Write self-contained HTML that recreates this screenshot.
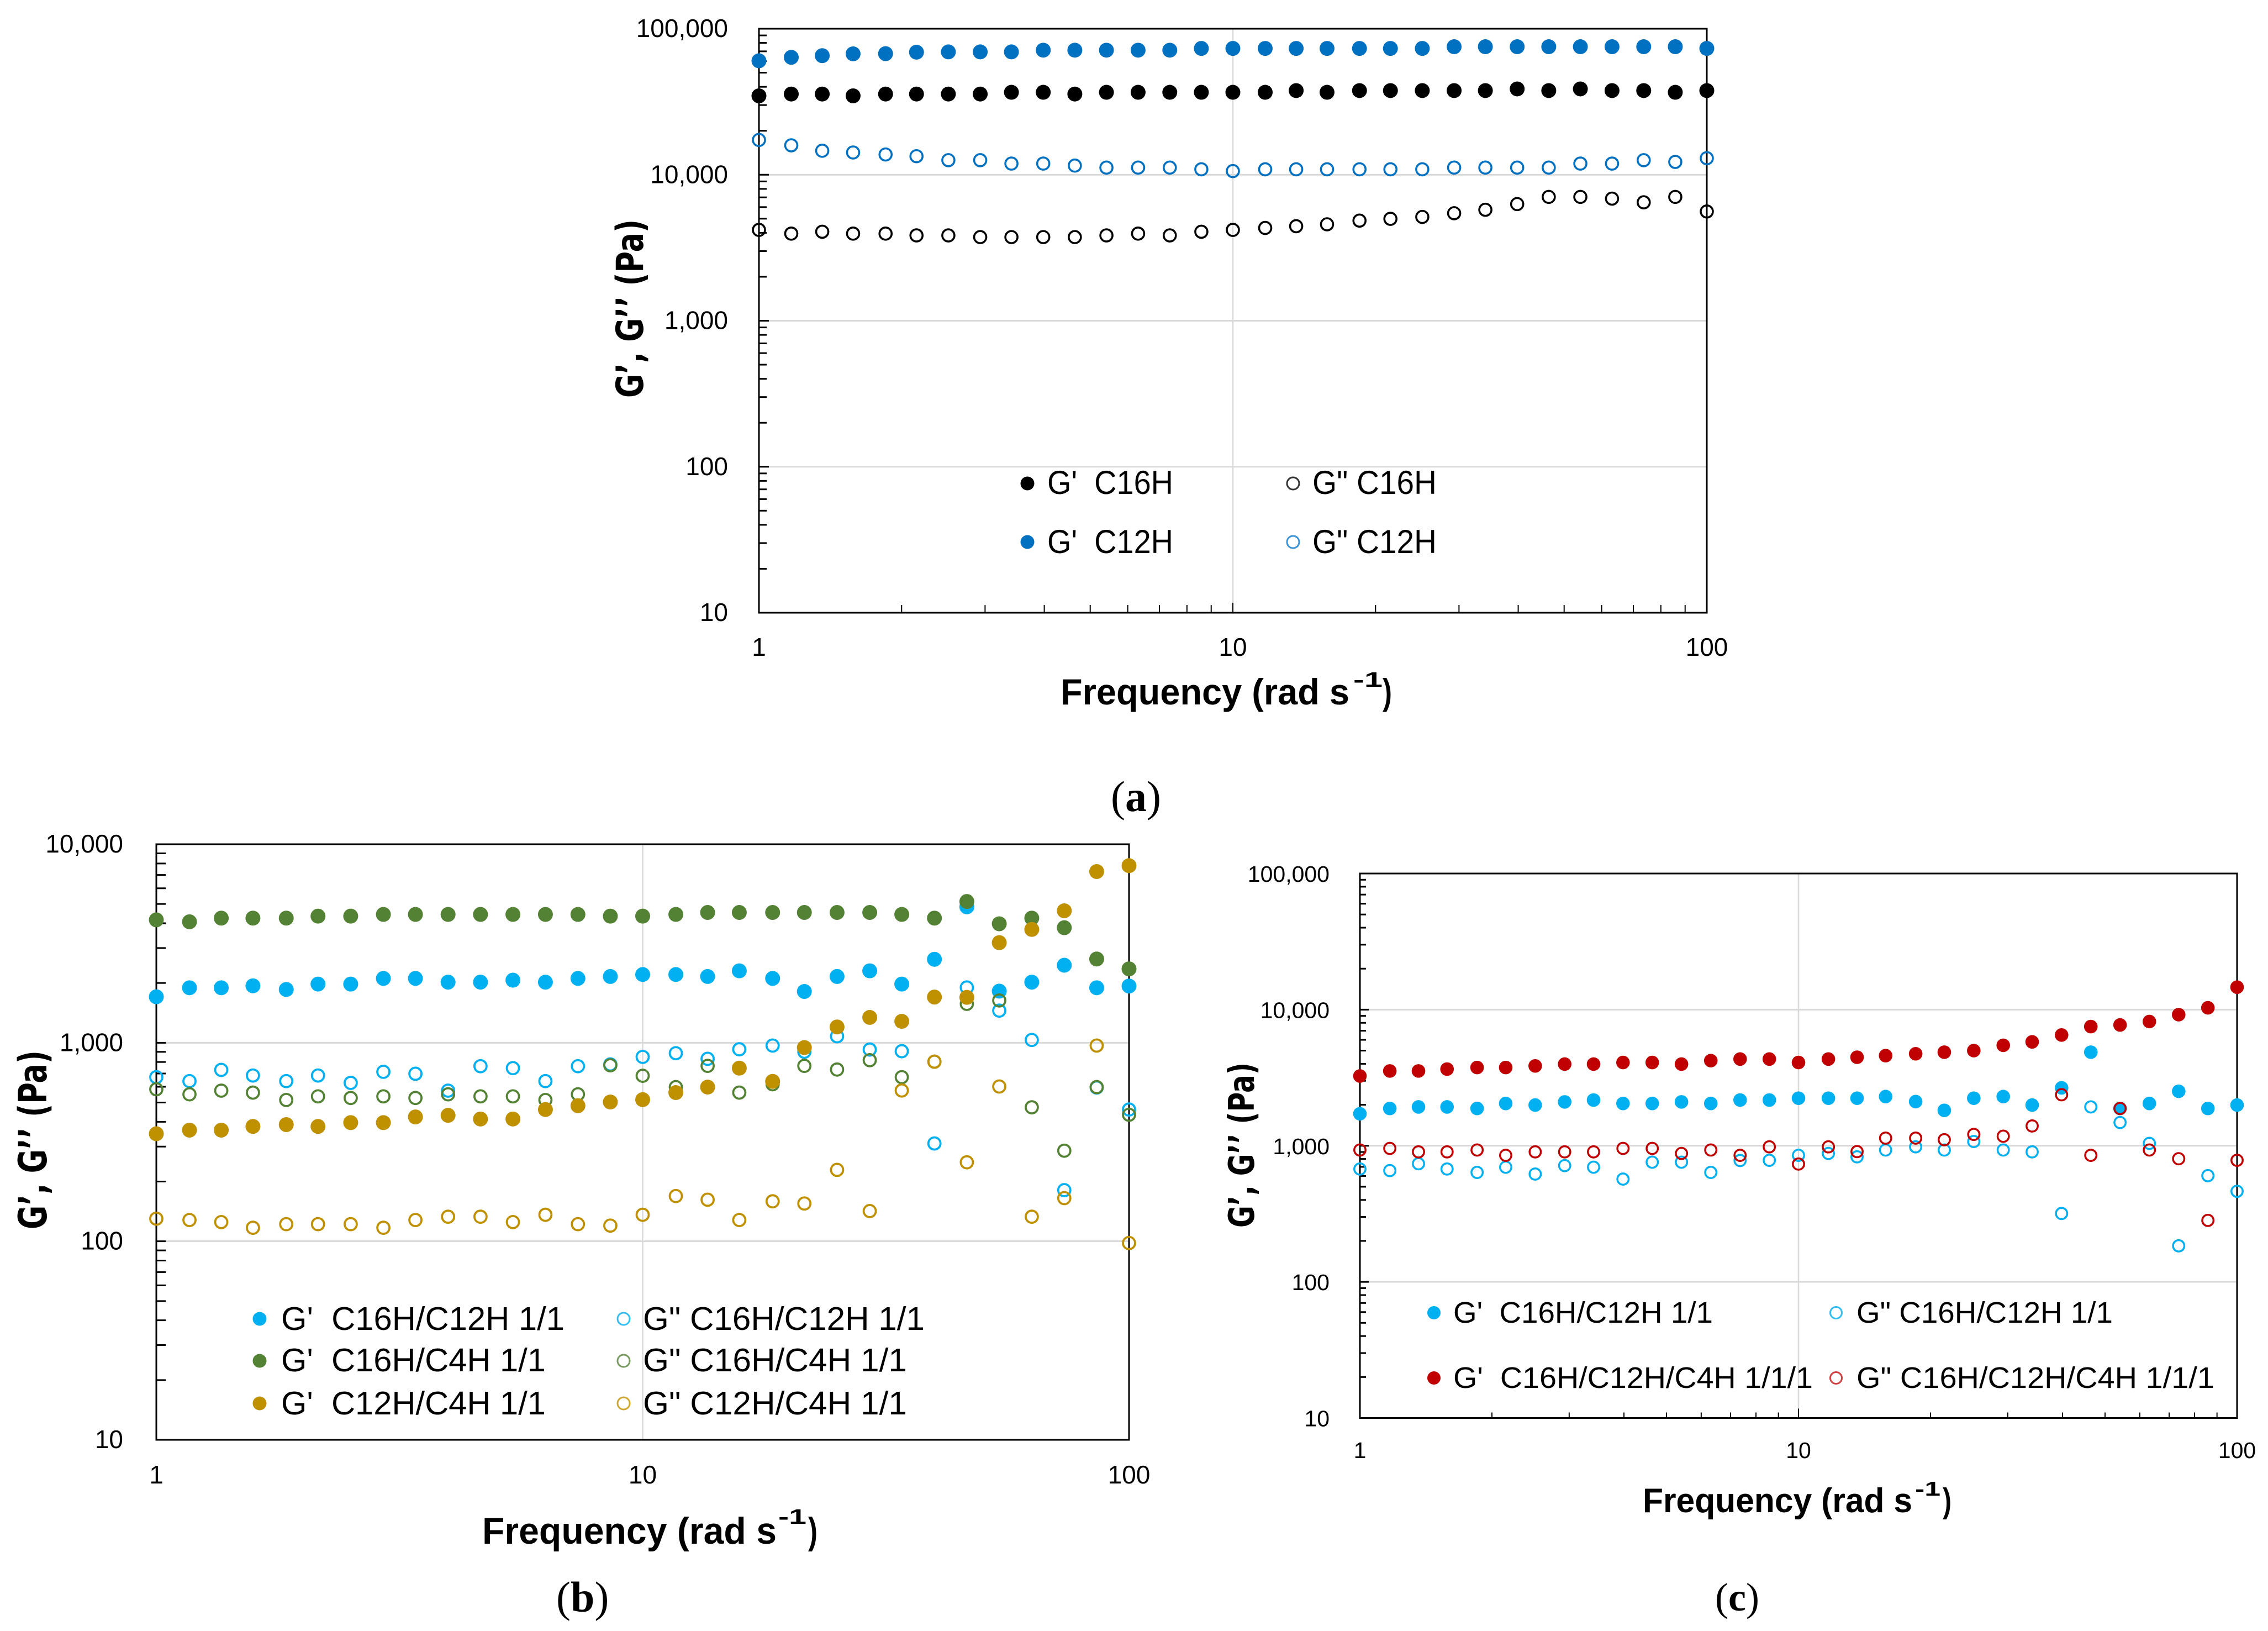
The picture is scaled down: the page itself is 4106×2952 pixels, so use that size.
<!DOCTYPE html>
<html lang="en">
<head>
<meta charset="utf-8">
<title>Storage and loss modulus versus frequency</title>
<style>
html,body{margin:0;padding:0;background:#fff;width:4106px;height:2952px;overflow:hidden}
svg{display:block}
text{font-family:"Liberation Sans",sans-serif;fill:#000}
.leg{white-space:pre}
.tick{font-size:44px}
.title{font-weight:bold}
.ytitle{font-family:"DejaVu Sans","Liberation Sans",sans-serif;font-weight:bold}
.cap{font-family:"Liberation Serif",serif}
</style>
</head>
<body>
<svg id="figure" xmlns="http://www.w3.org/2000/svg" width="4106" height="2952" viewBox="0 0 4106 2952">
  <rect x="0" y="0" width="4106" height="2952" fill="#fff"/>

  <g id="panel-a"></g>
  <g id="panel-b"></g>
  <g id="panel-c"></g>

  <!-- Panel a labels -->
  <g>
    <text class="ytitle" transform="translate(1164,720) rotate(-90)" font-size="68" textLength="323" lengthAdjust="spacingAndGlyphs">G’, G’’ (Pa)</text>
    <text class="title" x="1920" y="1275" font-size="66" textLength="523" lengthAdjust="spacingAndGlyphs" style="white-space:pre">Frequency (rad s</text>
    <text class="title" x="2450" y="1243" font-size="38" textLength="53" lengthAdjust="spacingAndGlyphs">-1</text>
    <text class="title" x="2503" y="1275" font-size="66" textLength="17" lengthAdjust="spacingAndGlyphs">)</text>
    <text class="cap" x="2011" y="1468" font-size="78">(<tspan font-weight="bold">a</tspan>)</text>
    <g>
      <circle cx="1860" cy="875" r="12.5" fill="#000"/>
      <text class="leg" x="1896" y="894" font-size="60" textLength="228" lengthAdjust="spacingAndGlyphs">G'  C16H</text>
      <circle cx="2341" cy="875" r="11" fill="none" stroke="#333" stroke-width="3"/>
      <text class="leg" x="2376" y="894" font-size="60" textLength="225" lengthAdjust="spacingAndGlyphs">G" C16H</text>
      <circle cx="1860" cy="981" r="12.5" fill="#0070C0"/>
      <text class="leg" x="1896" y="1001" font-size="60" textLength="228" lengthAdjust="spacingAndGlyphs">G'  C12H</text>
      <circle cx="2341" cy="981" r="11" fill="none" stroke="#3a94d6" stroke-width="3"/>
      <text class="leg" x="2376" y="1001" font-size="60" textLength="225" lengthAdjust="spacingAndGlyphs">G" C12H</text>
    </g>
  </g>

  <!-- Panel b labels -->
  <g>
    <text class="ytitle" transform="translate(84,2225) rotate(-90)" font-size="70" textLength="324" lengthAdjust="spacingAndGlyphs">G’, G’’ (Pa)</text>
    <text class="title" x="873" y="2794" font-size="68" textLength="533" lengthAdjust="spacingAndGlyphs" style="white-space:pre">Frequency (rad s</text>
    <text class="title" x="1409" y="2758" font-size="38" textLength="51" lengthAdjust="spacingAndGlyphs">-1</text>
    <text class="title" x="1463" y="2794" font-size="68" textLength="17" lengthAdjust="spacingAndGlyphs">)</text>
    <text class="cap" x="1007" y="2917" font-size="78">(<tspan font-weight="bold">b</tspan>)</text>
    <g>
      <circle cx="470" cy="2387" r="12.5" fill="#00B0F0"/>
      <text class="leg" x="509" y="2407" font-size="59" textLength="513" lengthAdjust="spacingAndGlyphs">G'  C16H/C12H 1/1</text>
      <circle cx="1129" cy="2387" r="11" fill="none" stroke="#33bdf2" stroke-width="3"/>
      <text class="leg" x="1164" y="2407" font-size="59" textLength="510" lengthAdjust="spacingAndGlyphs">G" C16H/C12H 1/1</text>
      <circle cx="470" cy="2463" r="12.5" fill="#548235"/>
      <text class="leg" x="509" y="2482" font-size="59" textLength="479" lengthAdjust="spacingAndGlyphs">G'  C16H/C4H 1/1</text>
      <circle cx="1129" cy="2463" r="11" fill="none" stroke="#7a9b60" stroke-width="3"/>
      <text class="leg" x="1164" y="2482" font-size="59" textLength="478" lengthAdjust="spacingAndGlyphs">G" C16H/C4H 1/1</text>
      <circle cx="470" cy="2540" r="12.5" fill="#BF9000"/>
      <text class="leg" x="509" y="2560" font-size="59" textLength="479" lengthAdjust="spacingAndGlyphs">G'  C12H/C4H 1/1</text>
      <circle cx="1129" cy="2540" r="11" fill="none" stroke="#cfa733" stroke-width="3"/>
      <text class="leg" x="1164" y="2560" font-size="59" textLength="478" lengthAdjust="spacingAndGlyphs">G" C12H/C4H 1/1</text>
    </g>
  </g>

  <!-- Panel c labels -->
  <g>
    <text class="ytitle" transform="translate(2270,2222) rotate(-90)" font-size="64" textLength="299" lengthAdjust="spacingAndGlyphs">G’, G’’ (Pa)</text>
    <text class="title" x="2974" y="2737" font-size="62" textLength="488" lengthAdjust="spacingAndGlyphs" style="white-space:pre">Frequency (rad s</text>
    <text class="title" x="3467" y="2707" font-size="36" textLength="46" lengthAdjust="spacingAndGlyphs">-1</text>
    <text class="title" x="3517" y="2737" font-size="62" textLength="16" lengthAdjust="spacingAndGlyphs">)</text>
    <text class="cap" x="3105" y="2915" font-size="72">(<tspan font-weight="bold">c</tspan>)</text>
    <g>
      <circle cx="2596" cy="2376" r="12" fill="#00B0F0"/>
      <text class="leg" x="2631" y="2394" font-size="54" textLength="470" lengthAdjust="spacingAndGlyphs">G'  C16H/C12H 1/1</text>
      <circle cx="3324" cy="2376" r="10.5" fill="none" stroke="#33bdf2" stroke-width="3"/>
      <text class="leg" x="3361" y="2394" font-size="54" textLength="464" lengthAdjust="spacingAndGlyphs">G" C16H/C12H 1/1</text>
      <circle cx="2596" cy="2494" r="12" fill="#C00000"/>
      <text class="leg" x="2631" y="2512" font-size="54" textLength="651" lengthAdjust="spacingAndGlyphs">G'  C16H/C12H/C4H 1/1/1</text>
      <circle cx="3324" cy="2494" r="10.5" fill="none" stroke="#d04040" stroke-width="3"/>
      <text class="leg" x="3361" y="2512" font-size="54" textLength="648" lengthAdjust="spacingAndGlyphs">G" C16H/C12H/C4H 1/1/1</text>
    </g>
  </g>
</svg>

<script>
// Shared categories and tick labels
const frequencies = [1,1.17,1.36,1.58,1.85,2.15,2.51,2.93,3.41,3.98,4.64,5.41,6.31,7.36,8.58,10,11.7,13.6,15.8,18.5,21.5,25.1,29.3,34.1,39.8,46.4,54.1,63.1,73.6,85.8,100];
const xTickValues = [1,10,100];
const xTickLabels = ["1","10","100"];

// Panel a
const yTickValuesA = [10,100,1000,10000,100000];
const yTickLabelsA = ["10","100","1,000","10,000","100,000"];
const aStorageC16H = [34700,35700,35700,34700,35700,35700,35700,35700,36700,36700,35700,36700,36700,36700,36700,36700,36700,37700,36700,37700,37700,37700,37700,37700,38700,37700,38700,37700,37700,36700,37700];
const aLossC16H = [4190,3950,4070,3950,3950,3840,3840,3740,3740,3740,3740,3840,3950,3840,4070,4190,4320,4440,4575,4850,4990,5140,5450,5755,6295,7050,7050,6860,6470,7050,5600];
const aStorageC12H = [60300,63700,65400,67300,67500,69100,69400,69400,69400,71300,71300,71300,71300,71300,73300,73300,73300,73300,73300,73300,73300,73300,75300,75300,75300,75300,75300,75300,75300,75300,73300];
const aLossC12H = [17300,15900,14600,14200,13760,13390,12580,12580,11920,11920,11550,11190,11190,11190,10890,10590,10890,10890,10890,10890,10890,10890,11190,11190,11190,11190,11920,11920,12580,12240,12980];

// Panel b
const yTickValuesB = [10,100,1000,10000];
const yTickLabelsB = ["10","100","1,000","10,000"];
const bStorageC16C12 = [1704,1892,1892,1936,1855,1975,1975,2109,2109,2020,2020,2067,2020,2109,2157,2207,2207,2157,2303,2109,1813,2157,2303,1975,2633,4838,1820,2020,2458,1892,1930];
const bLossC16C12 = [671,641,730,684,641,684,628,714,698,574,762,745,641,762,778,849,886,830,927,968,901,1078,924,907,311,1898,1452,1033,181,595,461];
const bStorageC16C4 = [4160,4068,4244,4244,4244,4343,4343,4430,4430,4430,4430,4430,4430,4430,4343,4343,4430,4532,4532,4532,4532,4532,4532,4430,4244,5147,3975,4244,3799,2642,2356];
const bLossC16C4 = [583,550,574,561,515,537,527,537,527,550,537,537,515,550,770,682,598,765,561,618,765,733,817,671,803,1570,1633,473,286,598,434];
const bStorageC12C4 = [348,363,363,379,387,379,396,396,423,431,413,413,461,482,503,517,561,598,745,639,946,1201,1342,1282,1699,1693,3193,3724,4622,7283,7799];
const bLossC12C4 = [130,128,125,117,122,122,122,117,128,133,133,125,136,122,120,136,169,162,128,159,155,229,142,575,803,250,602,133,165,968,98];

// Panel c
const yTickValuesC = [10,100,1000,10000,100000];
const yTickLabelsC = ["10","100","1,000","10,000","100,000"];
const cStorageC16C12 = [1718,1879,1929,1929,1879,2045,1991,2100,2167,2045,2045,2100,2045,2167,2167,2236,2236,2236,2298,2110,1820,2236,2298,1991,2663,4869,1879,2045,2512,1879,1991];
const cLossC16C12 = [675,657,738,675,637,696,620,715,696,569,758,758,637,779,782,851,878,829,931,982,931,1074,931,902,318,1929,1482,1041,184,603,463];
const cStorageTernary = [3255,3544,3544,3657,3757,3757,3859,3981,3981,4090,4090,3981,4220,4334,4334,4090,4334,4471,4593,4740,4869,5000,5470,5797,6511,7510,7717,8178,9186,10318,14620];
const cLossTernary = [931,956,902,902,931,851,902,902,902,956,956,878,931,851,982,734,982,906,1138,1138,1108,1212,1175,1398,2371,851,1879,931,803,283,782];

const NS = "http://www.w3.org/2000/svg";

function svgEl(parent, tag, attrs) {
  const el = document.createElementNS(NS, tag);
  for (const k in attrs) el.setAttribute(k, attrs[k]);
  parent.appendChild(el);
  return el;
}

function logScale(dMin, dMax, rStart, rEnd) {
  return function (v) {
    return rStart + (Math.log10(v) - Math.log10(dMin)) / (Math.log10(dMax) - Math.log10(dMin)) * (rEnd - rStart);
  };
}

function drawPanel(root, cfg) {
  const g = document.getElementById(root);
  const xMin = xTickValues[0], xMax = xTickValues[xTickValues.length - 1];
  const yMin = cfg.yValues[0], yMax = cfg.yValues[cfg.yValues.length - 1];
  const xs = logScale(xMin, xMax, cfg.left, cfg.right);
  const ys = logScale(yMin, yMax, cfg.bottom, cfg.top);

  // gridlines
  cfg.yValues.slice(1, -1).forEach(function (v) {
    const line = svgEl(g, "line", {x1: cfg.left, x2: cfg.right, y1: ys(v), y2: ys(v), stroke: "#d9d9d9", "stroke-width": 3});
    
    
  });
  xTickValues.slice(1, -1).forEach(function (v) {
    const line = svgEl(g, "line", {x1: xs(v), x2: xs(v), y1: cfg.top, y2: cfg.bottom, stroke: "#d9d9d9", "stroke-width": 2.5});
    
    
  });

  // y ticks: every multiple inside each decade
  for (let i = 0; i < cfg.yValues.length - 1; i++) {
    for (let m = 1; m <= 9; m++) {
      if (m === 1 && i === 0) continue;
      const v = cfg.yValues[i] * m;
      const tick = svgEl(g, "line", {x1: cfg.left, x2: cfg.left + (m === 1 ? cfg.yMajorLen : cfg.yMinorLen), y1: ys(v), y2: ys(v), stroke: "#000", "stroke-width": 3});
      
      
    }
  }

  // x ticks
  if (cfg.xMinorLen > 0) {
    for (let i = 0; i < xTickValues.length - 1; i++) {
      for (let m = 1; m <= 9; m++) {
        if (m === 1 && i === 0) continue;
        const v = xTickValues[i] * m;
        const tick = svgEl(g, "line", {x1: xs(v), x2: xs(v), y1: cfg.bottom, y2: cfg.bottom - (m === 1 ? cfg.xMajorLen : cfg.xMinorLen), stroke: "#000", "stroke-width": 2});
        
        
      }
    }
  }

  // frame
  const frame = svgEl(g, "rect", {x: cfg.left, y: cfg.top, width: cfg.right - cfg.left, height: cfg.bottom - cfg.top, fill: "none", stroke: "#000", "stroke-width": 3});
  
  

  // y tick labels
  cfg.yValues.forEach(function (v, i) {
    const t = svgEl(g, "text", {x: cfg.yLabelX, y: ys(v) + 15, "text-anchor": "end", "font-size": cfg.tickFont});
    t.textContent = cfg.yLabels[i];
    
    
  });

  // x tick labels
  xTickValues.forEach(function (v, i) {
    const t = svgEl(g, "text", {x: xs(v), y: cfg.xLabelY, "text-anchor": "middle", "font-size": cfg.tickFont});
    t.textContent = xTickLabels[i];
    
    
  });

  // series
  cfg.series.forEach(function (s) {
    const sg = svgEl(g, "g", {});
    
    
    s.values.forEach(function (v, i) {
      const style = s.open
        ? {fill: "none", stroke: s.color, "stroke-width": cfg.ringWidth, r: cfg.ringR}
        : {fill: s.color, r: cfg.dotR};
      const point = svgEl(sg, "circle", Object.assign({cx: xs(frequencies[i]), cy: ys(v)}, style));
      
      
    });
  });
}

drawPanel("panel-a", {
  left: 1374, right: 3090, top: 52, bottom: 1109,
  yValues: yTickValuesA, yLabels: yTickLabelsA,
  yLabelX: 1318, xLabelY: 1187, tickFont: 46,
  yMinorLen: 14, yMajorLen: 18, xMinorLen: 14, xMajorLen: 18,
  dotR: 13.5, ringR: 11, ringWidth: 3.6,
  series: [
    {name: "series-g-prime-c16h", values: aStorageC16H, color: "#000000", open: false},
    {name: "series-g-double-prime-c16h", values: aLossC16H, color: "#000000", open: true},
    {name: "series-g-prime-c12h", values: aStorageC12H, color: "#0070C0", open: false},
    {name: "series-g-double-prime-c12h", values: aLossC12H, color: "#0070C0", open: true}
  ]
});

drawPanel("panel-b", {
  left: 283, right: 2044, top: 1528, bottom: 2606,
  yValues: yTickValuesB, yLabels: yTickLabelsB,
  yLabelX: 223, xLabelY: 2685, tickFont: 46,
  yMinorLen: 17, yMajorLen: 17, xMinorLen: 0, xMajorLen: 0,
  dotR: 13.5, ringR: 11, ringWidth: 3.8,
  series: [
    {name: "series-g-prime-c16h-c12h", values: bStorageC16C12, color: "#00B0F0", open: false},
    {name: "series-g-double-prime-c16h-c12h", values: bLossC16C12, color: "#00B0F0", open: true},
    {name: "series-g-prime-c16h-c4h", values: bStorageC16C4, color: "#548235", open: false},
    {name: "series-g-double-prime-c16h-c4h", values: bLossC16C4, color: "#548235", open: true},
    {name: "series-g-prime-c12h-c4h", values: bStorageC12C4, color: "#BF9000", open: false},
    {name: "series-g-double-prime-c12h-c4h", values: bLossC12C4, color: "#BF9000", open: true}
  ]
});

drawPanel("panel-c", {
  left: 2462, right: 4050, top: 1581, bottom: 2566.5,
  yValues: yTickValuesC, yLabels: yTickLabelsC,
  yLabelX: 2407, xLabelY: 2639, tickFont: 41,
  yMinorLen: 11, yMajorLen: 16, xMinorLen: 10, xMajorLen: 17,
  dotR: 12.3, ringR: 10.2, ringWidth: 3.5,
  series: [
    {name: "series-g-prime-c16h-c12h", values: cStorageC16C12, color: "#00B0F0", open: false},
    {name: "series-g-double-prime-c16h-c12h", values: cLossC16C12, color: "#00B0F0", open: true},
    {name: "series-g-prime-c16h-c12h-c4h", values: cStorageTernary, color: "#C00000", open: false},
    {name: "series-g-double-prime-c16h-c12h-c4h", values: cLossTernary, color: "#C00000", open: true}
  ]
});
</script>
</body>
</html>
